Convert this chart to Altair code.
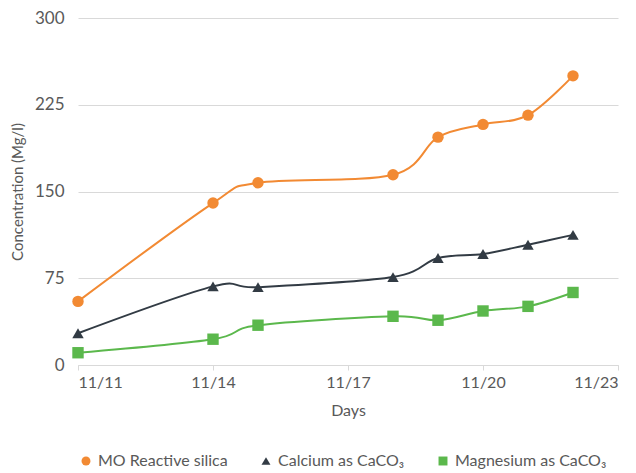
import altair as alt
import pandas as pd

days = [11, 14, 15, 18, 19, 20, 21, 22]
series_names = ["MO Reactive silica", "Calcium as CaCO₃", "Magnesium as CaCO₃"]
silica = [55, 140, 157.5, 164.5, 197, 208, 216, 250]
calcium = [27.5, 68, 67.3, 76, 92.5, 96, 104, 112.5]
magnesium = [10.6, 22.3, 34.4, 42.1, 38.7, 46.7, 50.7, 62.7]
x_ticks = [11, 14, 17, 20, 23]
y_ticks = [0, 75, 150, 225, 300]
colors = ["#F28A33", "#323B44", "#5BB84C"]
shapes = ["circle", "triangle-up", "square"]

rows = []
for name, vals in zip(series_names, [silica, calcium, magnesium]):
    for d, v in zip(days, vals):
        rows.append({"day": d, "value": v, "series": name})
df = pd.DataFrame(rows)

FONT = "Lato"
TXT = "#595959"

legend = alt.Legend(title=None, orient="bottom", direction="horizontal",
                    symbolSize=80, columnPadding=30, offset=35,
                    labelFontSize=16, labelColor=TXT, labelFont=FONT,
                    symbolOpacity=1, symbolStrokeWidth=0)

x = alt.X("day:Q", scale=alt.Scale(domain=[11, 23], nice=False, zero=False),
          axis=alt.Axis(values=x_ticks, labelExpr="'11/' + datum.value", title="Days",
                        grid=False, domainColor="#d9d9d9", tickColor="#d9d9d9", tickSize=5,
                        labelPadding=4, titlePadding=12, labelFontSize=16, titleFontSize=16))
y = alt.Y("value:Q", scale=alt.Scale(domain=[0, 300], nice=False),
          axis=alt.Axis(values=y_ticks, title="Concentration (Mg/l)", domain=False, ticks=False,
                        gridColor="#d9d9d9", labelPadding=14, titlePadding=9,
                        labelFontSize=17, titleFontSize=15))
color = alt.Color("series:N", scale=alt.Scale(domain=series_names, range=colors), legend=legend)
shape = alt.Shape("series:N", scale=alt.Scale(domain=series_names, range=shapes), legend=legend)

lines = alt.Chart(df).mark_line(interpolate="cardinal", strokeWidth=2).encode(
    x=x, y=y, color=color, detail="series:N")
points = alt.Chart(df).mark_point(filled=True, opacity=1, size=130).encode(
    x=x, y=y, color=color, shape=shape)

chart = alt.layer(lines, points).properties(
    width=540, height=347, padding={"left": 2, "top": 1, "right": 0, "bottom": 0}
).configure_view(stroke=None).configure_axis(
    labelFont=FONT, titleFont=FONT, labelColor=TXT, titleColor=TXT,
    titleFontWeight="normal"
)

chart.save("out.html", embed_options={"renderer": "svg", "actions": False})
